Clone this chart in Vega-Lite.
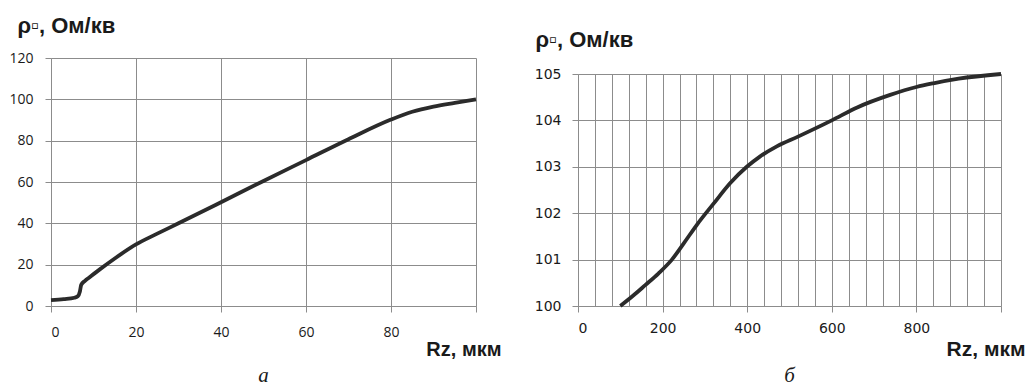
{
  "$schema": "https://vega.github.io/schema/vega-lite/v6.json",
  "background": "white",
  "padding": {"left": 8, "top": 14, "right": 0, "bottom": 0},
  "spacing": 33,
  "config": {
    "view": {"stroke": null},
    "axis": {
      "gridColor": "#8c8c8c", "gridWidth": 1, "gridOpacity": 1,
      "domainColor": "#8c8c8c", "domainWidth": 1,
      "tickColor": "#8c8c8c", "tickWidth": 1, "tickSize": 6,
      "labelColor": "#1a1a1a",
      "titleColor": "#1a1a1a", "titleFont": "Liberation Sans", "titleFontWeight": "bold"
    },
    "title": {"font": "Liberation Serif", "fontStyle": "italic", "fontWeight": "normal", "fontSize": 21, "color": "#1a1a1a"}
  },
  "datasets": {
    "a": [
      {"rz": 0, "rho": 2.8}, {"rz": 3, "rho": 3.3}, {"rz": 5.5, "rho": 4.0}, {"rz": 6.3, "rho": 4.7},
      {"rz": 6.8, "rho": 7.0}, {"rz": 7.1, "rho": 10.2}, {"rz": 8, "rho": 12.2}, {"rz": 9, "rho": 13.8},
      {"rz": 11.4, "rho": 17.6}, {"rz": 15, "rho": 23}, {"rz": 20, "rho": 29.8}, {"rz": 25, "rho": 35},
      {"rz": 30, "rho": 40}, {"rz": 40, "rho": 50.2}, {"rz": 50, "rho": 60.5}, {"rz": 60, "rho": 70.6},
      {"rz": 70, "rho": 80.7}, {"rz": 80, "rho": 90.2}, {"rz": 85, "rho": 94}, {"rz": 90, "rho": 96.5},
      {"rz": 95, "rho": 98.3}, {"rz": 100, "rho": 100}
    ],
    "b": [
      {"rz": 100, "rho": 100}, {"rz": 130, "rho": 100.22}, {"rz": 159, "rho": 100.45}, {"rz": 190, "rho": 100.7},
      {"rz": 222, "rho": 101}, {"rz": 250, "rho": 101.35}, {"rz": 281, "rho": 101.75}, {"rz": 320, "rho": 102.2},
      {"rz": 360, "rho": 102.65}, {"rz": 399, "rho": 103}, {"rz": 430, "rho": 103.22}, {"rz": 470, "rho": 103.44},
      {"rz": 520, "rho": 103.65}, {"rz": 600, "rho": 104}, {"rz": 660, "rho": 104.28}, {"rz": 738, "rho": 104.55},
      {"rz": 800, "rho": 104.72}, {"rz": 840, "rho": 104.8}, {"rz": 900, "rho": 104.9}, {"rz": 1000, "rho": 105}
    ]
  },
  "hconcat": [
    {
      "width": 425, "height": 248,
      "data": {"name": "a"},
      "title": {"text": "а", "orient": "bottom", "anchor": "middle", "offset": 6},
      "mark": {"type": "line", "interpolate": "monotone", "color": "#2b2b2b", "strokeWidth": 3.8},
      "encoding": {
        "x": {
          "field": "rz", "type": "quantitative",
          "scale": {"domain": [0, 100], "nice": false},
          "axis": {
            "values": [0, 20, 40, 60, 80, 100],
            "labelExpr": "datum.value == 100 ? '' : datum.label",
            "labelFont": "Open Sans", "labelFontSize": 14, "labelPadding": 13,
            "title": "Rz, мкм", "titleFontSize": 20,
            "titleX": 450, "titleY": 49, "titleAlign": "right", "titleBaseline": "alphabetic"
          }
        },
        "y": {
          "field": "rho", "type": "quantitative",
          "scale": {"domain": [0, 120], "nice": false},
          "axis": {
            "values": [0, 20, 40, 60, 80, 100, 120],
            "labelFont": "Open Sans", "labelFontSize": 14, "labelPadding": 12,
            "title": "ρ▫, Ом/кв", "titleFontSize": 22, "titleAngle": 0,
            "titleX": -34, "titleY": -26, "titleAlign": "left", "titleBaseline": "alphabetic"
          }
        }
      }
    },
    {
      "vconcat": [
        {
          "width": 423, "height": 16,
          "data": {"values": []},
          "mark": "point"
        },
        {
          "width": 423, "height": 232,
          "data": {"name": "b"},
          "title": {"text": "б", "orient": "bottom", "anchor": "middle", "offset": 6},
          "mark": {"type": "line", "interpolate": "monotone", "color": "#2b2b2b", "strokeWidth": 3.8},
          "encoding": {
            "x": {
              "field": "rz", "type": "quantitative",
              "scale": {"domain": [0, 1000], "nice": false},
              "axis": {
                "values": [0, 40, 80, 120, 160, 200, 240, 280, 320, 360, 400, 440, 480, 520, 560, 600, 640, 680, 720, 760, 800, 840, 880, 920, 960, 1000],
                "labelExpr": "datum.value % 200 == 0 && datum.value < 1000 ? datum.label : ''",
                "tickOpacity": {"condition": {"test": "datum.value % 200 == 0", "value": 1}, "value": 0},
                "labelFont": "DejaVu Sans", "labelFontSize": 14, "labelPadding": 9,
                "title": "Rz, мкм", "titleFontSize": 21,
                "titleX": 447, "titleY": 49, "titleAlign": "right", "titleBaseline": "alphabetic"
              }
            },
            "y": {
              "field": "rho", "type": "quantitative",
              "scale": {"domain": [100, 105], "nice": false, "zero": false},
              "axis": {
                "values": [100, 101, 102, 103, 104, 105],
                "labelFont": "DejaVu Sans", "labelFontSize": 14, "labelPadding": 11,
                "title": "ρ▫, Ом/кв", "titleFontSize": 22, "titleAngle": 0,
                "titleX": -43, "titleY": -28, "titleAlign": "left", "titleBaseline": "alphabetic"
              }
            }
          }
        }
      ],
      "spacing": 0,
      "bounds": "flush"
    }
  ]
}
